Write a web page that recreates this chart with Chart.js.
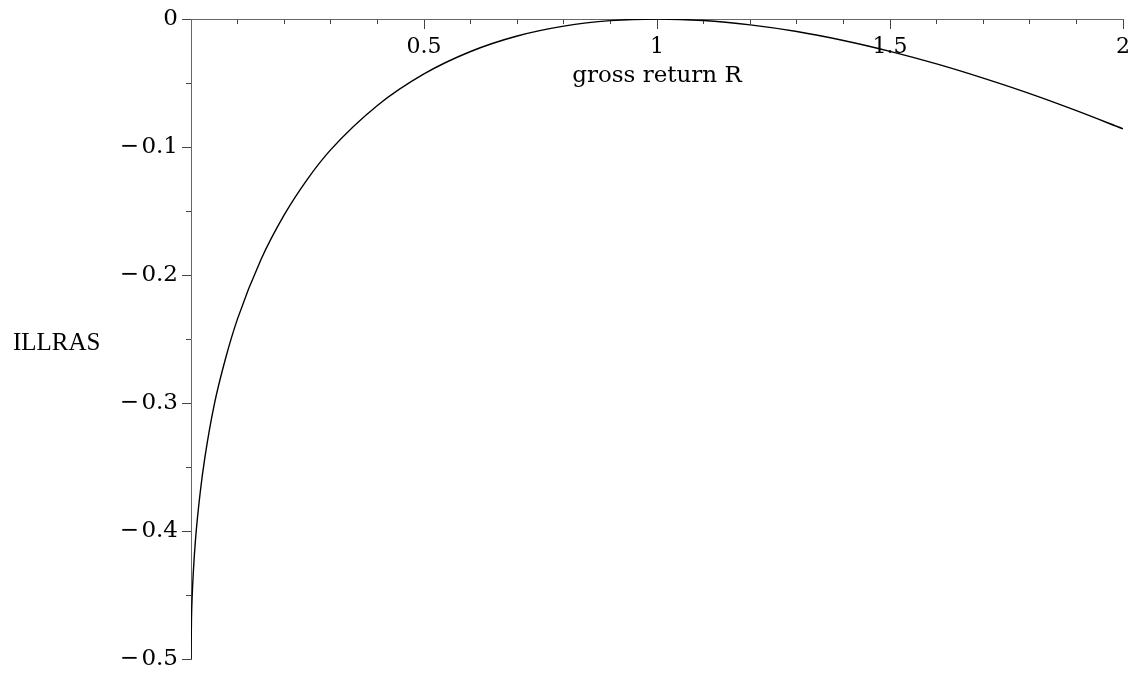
<!DOCTYPE html>
<html>
<head>
<meta charset="utf-8">
<script src="https://cdn.jsdelivr.net/npm/chart.js@4/dist/chart.umd.min.js"></script>
<style>
  html, body { margin: 0; padding: 0; background: #fff; }
  canvas { display: block; }
</style>
</head>
<body>
<canvas id="c" width="1137" height="677"></canvas>
<script>
// Gross return R (x) and ILLRAS (y)
const grossReturn = [0, 0.001, 0.0025, 0.005, 0.01, 0.02, 0.03, 0.05, 0.075, 0.1, 0.15, 0.2, 0.25, 0.3, 0.4, 0.5, 0.6, 0.7, 0.8, 0.9, 1.0, 1.1, 1.2, 1.3, 1.4, 1.5, 1.6, 1.7, 1.8, 1.9, 2.0];
const illras = [-0.5, -0.469, -0.451, -0.432, -0.405, -0.369, -0.342, -0.301, -0.264, -0.234, -0.188, -0.153, -0.125, -0.102, -0.0675, -0.0429, -0.0254, -0.0133, -0.0056, -0.0013, 0, -0.0012, -0.0046, -0.0098, -0.0168, -0.0253, -0.0351, -0.0462, -0.0583, -0.0716, -0.0858];
const xTickLabels = ['0.5', '1', '1.5', '2'];
const yTickLabels = ['0', '\u2212\u200A0.1', '\u2212\u200A0.2', '\u2212\u200A0.3', '\u2212\u200A0.4', '\u2212\u200A0.5'];
const xTitle = 'gross return R';
const yTitle = 'ILLRAS';

const points = grossReturn.map((r, i) => ({ x: r, y: illras[i] }));
const xTickFont = { family: 'DejaVu Serif', size: 22 };
const yTickFont = { family: 'DejaVu Serif', size: 23 };
const axisGray = '#666';
const tickGray = '#444';

const titlePlugin = {
  id: 'axisTitles',
  afterDraw(chart) {
    const ctx = chart.ctx;
    const xs = chart.scales.x;
    ctx.save();
    ctx.fillStyle = '#000';
    ctx.font = '23px "DejaVu Serif"';
    ctx.textAlign = 'center';
    ctx.textBaseline = 'alphabetic';
    ctx.fillText(xTitle, (xs.left + xs.right) / 2, 82);
    ctx.font = '25px "Liberation Serif"';
    ctx.textAlign = 'left';
    ctx.textBaseline = 'middle';
    ctx.fillText(yTitle, 13, 343);
    ctx.restore();
  }
};

new Chart(document.getElementById('c'), {
  type: 'scatter',
  data: {
    datasets: [{
      data: points,
      showLine: true,
      borderColor: '#000',
      borderWidth: 1.4,
      pointRadius: 0,
      cubicInterpolationMode: 'monotone',
      fill: false
    }]
  },
  options: {
    responsive: false,
    animation: false,
    devicePixelRatio: 1,
    layout: { padding: { left: 0, right: 14, top: 19, bottom: 16 } },
    plugins: { legend: { display: false }, tooltip: { enabled: false } },
    scales: {
      x: {
        type: 'linear',
        position: { y: 0 },
        min: 0, max: 2,
        afterFit(s) { s.height = 0; },
        border: { display: true, color: axisGray, width: 1 },
        grid: { display: true, drawOnChartArea: false, drawTicks: true, tickLength: 9, tickColor: tickGray },
        ticks: {
          stepSize: 0.5,
          padding: 6,
          color: '#000',
          font: xTickFont,
          maxRotation: 0,
          autoSkip: false,
          callback: (v) => { const i = Math.round(v / 0.5) - 1; return i >= 0 ? xTickLabels[i] : ''; }
        }
      },
      xMinor: {
        type: 'linear',
        axis: 'x',
        position: { y: 0 },
        min: 0, max: 2,
        afterFit(s) { s.height = 0; },
        border: { display: false },
        grid: { display: true, drawOnChartArea: false, drawTicks: true, tickLength: 5, tickColor: tickGray },
        ticks: { stepSize: 0.1, autoSkip: false, callback: () => '' }
      },
      y: {
        type: 'linear',
        position: 'left',
        min: -0.5, max: 0,
        afterFit(s) { s.width = 191; },
        border: { display: true, color: axisGray, width: 1 },
        grid: { display: true, drawOnChartArea: false, drawTicks: true, tickLength: 9, tickColor: tickGray },
        ticks: {
          stepSize: 0.1,
          padding: 4,
          color: '#000',
          font: yTickFont,
          autoSkip: false,
          callback: (v) => yTickLabels[Math.round(-v / 0.1)]
        }
      },
      yMinor: {
        type: 'linear',
        axis: 'y',
        position: { x: 0 },
        min: -0.5, max: 0,
        afterFit(s) { s.width = 0; },
        border: { display: false },
        grid: { display: true, drawOnChartArea: false, drawTicks: true, tickLength: 5, tickColor: tickGray },
        ticks: { stepSize: 0.05, autoSkip: false, callback: () => '' }
      }
    }
  },
  plugins: [titlePlugin]
});
</script>
</body>
</html>
